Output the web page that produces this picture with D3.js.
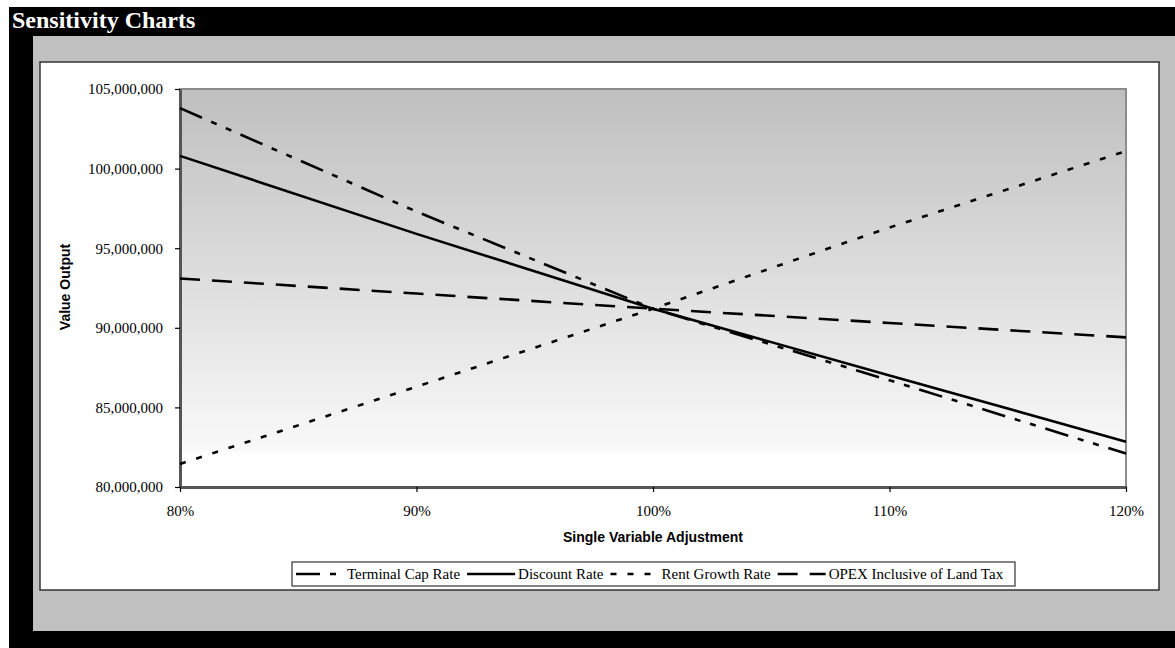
<!DOCTYPE html>
<html>
<head>
<meta charset="utf-8">
<script src="https://d3js.org/d3.v7.min.js"></script>
<style>
  html, body { margin: 0; padding: 0; background: #ffffff; }
  svg { display: block; }
</style>
</head>
<body>
<script>
// ---- Data ----
const categories = ["80%", "90%", "100%", "110%", "120%"];
const terminalCapRate = [103800000, 97300000, 91200000, 86700000, 82100000];
const discountRate    = [100800000, 95900000, 91200000, 87000000, 82850000];
const rentGrowthRate  = [81450000, 86300000, 91200000, 96300000, 101100000];
const opexLandTax     = [93100000, 92150000, 91200000, 90300000, 89400000];
const seriesNames = ["Terminal Cap Rate", "Discount Rate", "Rent Growth Rate", "OPEX Inclusive of Land Tax"];
const yTicks = [80000000, 85000000, 90000000, 95000000, 100000000, 105000000];

const series = [
  { name: seriesNames[0], values: terminalCapRate, dash: "24,10,6,10,6,10" },
  { name: seriesNames[1], values: discountRate,    dash: null },
  { name: seriesNames[2], values: rentGrowthRate,  dash: "6,11" },
  { name: seriesNames[3], values: opexLandTax,     dash: "20,12" }
];

const W = 1175, H = 648;
const serif = "'Liberation Serif','Times New Roman',Times,serif";
const sans = "'Liberation Sans',Arial,Helvetica,sans-serif";

const svg = d3.select("body").append("svg").attr("width", W).attr("height", H);

// backgrounds
svg.append("rect").attr("x", 0).attr("y", 0).attr("width", W).attr("height", H).attr("fill", "#ffffff");
svg.append("rect").attr("x", 9).attr("y", 7).attr("width", W - 9).attr("height", H - 7).attr("fill", "#000000");
svg.append("rect").attr("x", 33).attr("y", 36).attr("width", W - 33).attr("height", 595).attr("fill", "#c0c0c0");
svg.append("text").attr("x", 12).attr("y", 28).attr("fill", "#ffffff")
  .attr("font-family", serif).attr("font-weight", "bold").attr("font-size", 24)
  .text("Sensitivity Charts");

// chart area
svg.append("rect").attr("x", 40).attr("y", 62).attr("width", 1119).attr("height", 528)
  .attr("fill", "#ffffff").attr("stroke", "#333333").attr("stroke-width", 1.5);

const plot = { left: 180, right: 1126, top: 89, bottom: 487 };

const defs = svg.append("defs");
const grad = defs.append("linearGradient").attr("id", "pg").attr("x1", 0).attr("y1", 0).attr("x2", 0).attr("y2", 1);
grad.append("stop").attr("offset", "0").attr("stop-color", "#bfbfbf");
grad.append("stop").attr("offset", "0.91").attr("stop-color", "#f9f9f9");
grad.append("stop").attr("offset", "0.912").attr("stop-color", "#ffffff");
grad.append("stop").attr("offset", "1").attr("stop-color", "#ffffff");

svg.append("rect").attr("x", plot.left).attr("y", plot.top)
  .attr("width", plot.right - plot.left).attr("height", plot.bottom - plot.top)
  .attr("fill", "url(#pg)").attr("stroke", "#8c8c8c").attr("stroke-width", 2);

const x = d3.scalePoint().domain(categories).range([plot.left, plot.right]).padding(0);
const y = d3.scaleLinear().domain([80000000, 105000000]).range([plot.bottom, plot.top]);

// axes
const yAxis = svg.append("g").attr("transform", `translate(${plot.left},0)`)
  .call(d3.axisLeft(y).tickValues(yTicks).tickFormat(d3.format(",")).tickSize(5).tickSizeOuter(0).tickPadding(12));
yAxis.select(".domain").attr("stroke", "#555555").attr("stroke-width", 3);
yAxis.selectAll(".tick line").attr("stroke", "#000").attr("stroke-width", 1.2);
yAxis.selectAll("text").attr("font-family", serif).attr("font-size", 15).attr("fill", "#000");

const xAxis = svg.append("g").attr("transform", `translate(0,${plot.bottom})`)
  .call(d3.axisBottom(x).tickSize(5).tickSizeOuter(0).tickPadding(13));
xAxis.select(".domain").attr("stroke", "#555555").attr("stroke-width", 3);
xAxis.selectAll(".tick line").attr("stroke", "#000").attr("stroke-width", 1.2);
xAxis.selectAll("text").attr("font-family", serif).attr("font-size", 15).attr("fill", "#000");

// axis titles
svg.append("text").attr("transform", "translate(70,287) rotate(-90)")
  .attr("text-anchor", "middle").attr("font-family", sans).attr("font-weight", "bold").attr("font-size", 14)
  .text("Value Output");
svg.append("text").attr("x", (plot.left + plot.right) / 2).attr("y", 542)
  .attr("text-anchor", "middle").attr("font-family", sans).attr("font-weight", "bold").attr("font-size", 14)
  .text("Single Variable Adjustment");

// lines
const line = d3.line().x((d, i) => x(categories[i])).y(d => y(d));
svg.append("g").selectAll("path").data(series).join("path")
  .attr("d", d => line(d.values))
  .attr("fill", "none").attr("stroke", "#000").attr("stroke-width", 2.6)
  .attr("stroke-dasharray", d => d.dash);

// legend
svg.append("rect").attr("x", 292).attr("y", 562).attr("width", 723).attr("height", 24)
  .attr("fill", "#ffffff").attr("stroke", "#333333").attr("stroke-width", 1.2);
let lx = 296;
series.forEach(s => {
  svg.append("line").attr("x1", lx).attr("x2", lx + 48).attr("y1", 574).attr("y2", 574)
    .attr("stroke", "#000").attr("stroke-width", 2.6).attr("stroke-dasharray", s.dash);
  const t = svg.append("text").attr("x", lx + 51).attr("y", 579)
    .attr("font-family", serif).attr("font-size", 15).attr("fill", "#000").text(s.name);
  lx = lx + 51 + t.node().getComputedTextLength() + 7;
});
</script>
</body>
</html>
